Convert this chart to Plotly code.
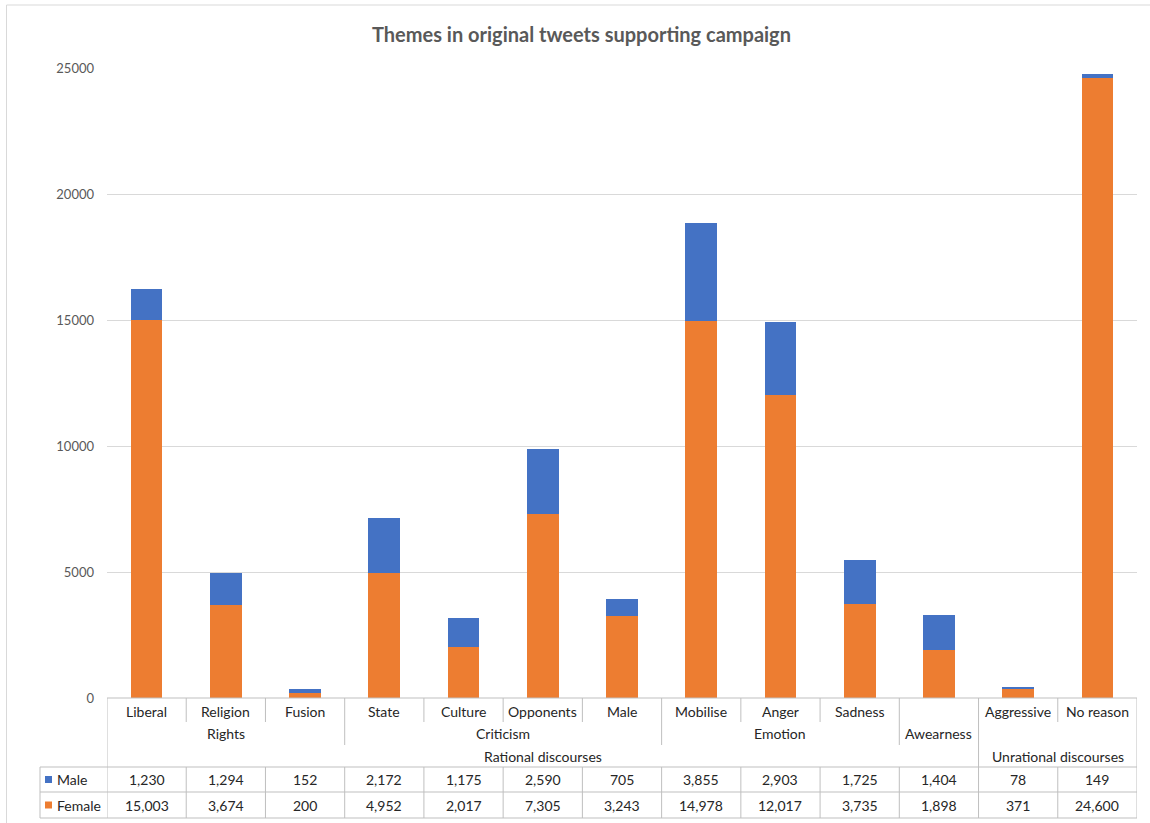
import plotly.graph_objects as go

# Theme labels (level 1), their sub-groups (level 2) and top groups (level 3)
themes = ["Liberal", "Religion", "Fusion", "State", "Culture", "Opponents", "Male",
          "Mobilise", "Anger", "Sadness", "", "Aggressive", "No reason"]
subgroups = ["Rights", "Rights", "Rights", "Criticism", "Criticism", "Criticism", "Criticism",
             "Emotion", "Emotion", "Emotion", "Awearness", "", ""]
groups = ["Rational discourses"] * 11 + ["Unrational discourses"] * 2

male = [1230, 1294, 152, 2172, 1175, 2590, 705, 3855, 2903, 1725, 1404, 78, 149]
female = [15003, 3674, 200, 4952, 2017, 7305, 3243, 14978, 12017, 3735, 1898, 371, 24600]

series_names = ["Male", "Female"]
series_colors = {"Male": "#4472C4", "Female": "#ED7D31"}

W, H = 1150, 823
PLOT_L, PLOT_R, PLOT_T, PLOT_B = 107, 1137, 68, 698
FONT = "Lato, Carlito, Calibri, sans-serif"
LINE = "#bfbfbf"
TXT = "#262626"

n = len(themes)
xs = list(range(n))


def py(p):
    """pixel row -> paper y"""
    return (PLOT_B - p) / (PLOT_B - PLOT_T)


def pxp(p):
    """pixel column -> paper x"""
    return (p - PLOT_L) / (PLOT_R - PLOT_L)


fig = go.Figure()
fig.add_bar(x=xs, y=female, name="Female", marker=dict(color=series_colors["Female"], line=dict(width=0)),
            width=0.4)
fig.add_bar(x=xs, y=male, name="Male", marker=dict(color=series_colors["Male"], line=dict(width=0)),
            width=0.4)

shapes = []
annotations = []


def vline(xv, p0, p1, xref="x"):
    shapes.append(dict(type="line", xref=xref, yref="paper", x0=xv, x1=xv, y0=py(p0), y1=py(p1),
                       line=dict(color=LINE, width=1)))


def hline(xa, xb, p, xref="paper"):
    shapes.append(dict(type="line", xref=xref, yref="paper", x0=xa, x1=xb, y0=py(p), y1=py(p),
                       line=dict(color=LINE, width=1)))


ROW1, ROW2, ROW3 = 711, 733, 756
TOP_TABLE, MID_TABLE, BOT_TABLE = 767, 792, 818

# category axis line and outer borders of the category block
hline(0, 1, PLOT_B)
vline(-0.5, PLOT_B, BOT_TABLE)
vline(n - 0.5, PLOT_B, BOT_TABLE)

# separators inside the category block
for i in range(1, n):
    b = i - 0.5
    if groups[i] != groups[i - 1]:
        end = TOP_TABLE
    elif subgroups[i] != subgroups[i - 1]:
        end = 745
    else:
        end = 722
    vline(b, PLOT_B, end)
    vline(b, TOP_TABLE, BOT_TABLE)

# data table grid
for p in (TOP_TABLE, MID_TABLE, BOT_TABLE):
    hline(pxp(40), 1, p)
vline(pxp(40), TOP_TABLE, BOT_TABLE, xref="paper")


def label(xv, p, text, xref="x", xanchor="center", size=14, color=TXT):
    annotations.append(dict(x=xv, y=py(p), xref=xref, yref="paper", text=text, showarrow=False,
                            xanchor=xanchor, yanchor="middle", font=dict(family=FONT, size=size, color=color)))


for i, t in enumerate(themes):
    if t:
        label(i, ROW1, t)


def spans(values):
    out = []
    start = 0
    for i in range(1, len(values) + 1):
        if i == len(values) or values[i] != values[start]:
            out.append((values[start], start, i - 1))
            start = i
    return out


for name, a, b in spans(subgroups):
    if name:
        label((a + b) / 2, ROW2, name)
for name, a, b in spans(groups):
    label((a + b) / 2, ROW3, name)

# table rows with legend keys
rows = [("Male", male, (TOP_TABLE + MID_TABLE) / 2), ("Female", female, (MID_TABLE + BOT_TABLE) / 2)]
for name, vals, yc in rows:
    shapes.append(dict(type="rect", xref="paper", yref="paper", x0=pxp(45), x1=pxp(52),
                       y0=py(yc + 3.5), y1=py(yc - 3.5), fillcolor=series_colors[name], line=dict(width=0)))
    label(pxp(55), yc, name, xref="paper", xanchor="left")
    for i, v in enumerate(vals):
        label(i, yc, f"{v:,}")

# chart area border (left and top edges)
shapes.append(dict(type="line", xref="paper", yref="paper", x0=pxp(6.5), x1=pxp(6.5), y0=py(5), y1=py(830),
                   line=dict(color="#d9d9d9", width=1)))
shapes.append(dict(type="line", xref="paper", yref="paper", x0=pxp(6.5), x1=pxp(1160), y0=py(5), y1=py(5),
                   line=dict(color="#d9d9d9", width=1)))

annotations.append(dict(x=pxp(581), y=py(34), xref="paper", yref="paper",
                        text="<b>Themes in original tweets supporting campaign</b>", showarrow=False,
                        xanchor="center", yanchor="middle", font=dict(family=FONT, size=20, color="#595959")))

fig.update_layout(
    width=W, height=H,
    margin=dict(l=PLOT_L, r=W - PLOT_R, t=PLOT_T, b=H - PLOT_B, autoexpand=False),
    barmode="stack",
    showlegend=False,
    plot_bgcolor="white", paper_bgcolor="white",
    shapes=shapes, annotations=annotations,
    font=dict(family=FONT, color="#595959"),
    xaxis=dict(range=[-0.5, n - 0.5], showticklabels=False, showgrid=False, zeroline=False, showline=False),
    yaxis=dict(range=[0, 25000], dtick=5000, tickformat="d", showgrid=True, gridcolor="#d9d9d9",
               gridwidth=1, zeroline=False, showline=False, ticks="", ticklabelstandoff=12,
               tickfont=dict(family=FONT, size=13, color="#595959")),
)

fig.write_html("out.html")
